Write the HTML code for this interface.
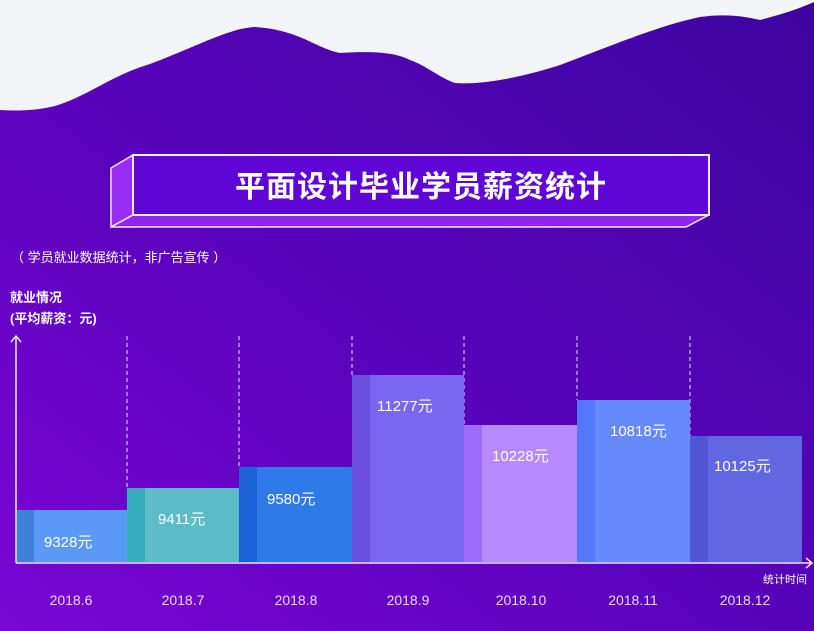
<!DOCTYPE html><html><head><meta charset="utf-8"><style>
body{margin:0;width:814px;height:631px;overflow:hidden;font-family:"Liberation Sans","Noto Sans CJK SC",sans-serif}
</style></head><body>
<svg width="814" height="631" xmlns="http://www.w3.org/2000/svg" style="display:block">
<defs><linearGradient id="bg" x1="0" y1="1" x2="1" y2="0"><stop offset="0" stop-color="#7a06d4"/><stop offset="0.45" stop-color="#5a03bc"/><stop offset="1" stop-color="#3d04a0"/></linearGradient></defs>
<rect width="814" height="631" fill="url(#bg)"/>
<path d="M0,0 L814,0 L814,2 C800,8 790,12 760,20 C740,15 720,14 700,17 C660,25 600,50 560,65 C520,78 480,85 455,83 C440,78 425,65 410,60 C395,52 370,51 340,53 C315,48 300,30 255,27 C230,28 200,45 150,64 C110,76 90,95 55,106 C35,111 15,111 0,110 Z" fill="#f3f4f8"/>
<polygon points="111,168 133,155 133,215 111,227" fill="#9a2df5" stroke="#f0e6ff" stroke-width="1.5"/>
<polygon points="111,227 133,215 709,215 686,227" fill="#9124f0" stroke="#f0e6ff" stroke-width="1.5"/>
<rect x="133" y="155" width="576" height="60" fill="#5f06d6" stroke="#f4ecff" stroke-width="2"/>
<text x="421" y="197" text-anchor="middle" font-size="30" font-weight="bold" fill="#fff" font-family="'Noto Sans CJK SC',sans-serif" letter-spacing="1">平面设计毕业学员薪资统计</text>
<text x="11" y="262" font-size="13" fill="#fff">（ 学员就业数据统计，非广告宣传 ）</text>
<text x="10" y="302" font-size="13" font-weight="bold" fill="#fff">就业情况</text>
<text x="10" y="323" font-size="13" font-weight="bold" fill="#fff">(平均薪资：元)</text>
<g stroke="#e8dcff" stroke-width="1" stroke-dasharray="4,3">
<line x1="127" y1="336" x2="127" y2="488"/><line x1="239" y1="336" x2="239" y2="467"/><line x1="352" y1="336" x2="352" y2="375"/><line x1="464" y1="336" x2="464" y2="425"/><line x1="577" y1="336" x2="577" y2="400"/><line x1="690" y1="336" x2="690" y2="436"/>
</g>
<rect x="16" y="510" width="111" height="52" fill="#5a9af6"/><rect x="16" y="510" width="18" height="52" fill="#3e82d8"/>
<rect x="127" y="488" width="112" height="74" fill="#5bbcc8"/><rect x="127" y="488" width="18" height="74" fill="#36aebf"/>
<rect x="239" y="467" width="113" height="95" fill="#2f7ae9"/><rect x="239" y="467" width="18" height="95" fill="#1c62d6"/>
<rect x="352" y="375" width="112" height="187" fill="#7b66ef"/><rect x="352" y="375" width="18" height="187" fill="#6a4fdf"/>
<rect x="464" y="425" width="113" height="137" fill="#b78afc"/><rect x="464" y="425" width="18" height="137" fill="#9d6bf8"/>
<rect x="577" y="400" width="113" height="162" fill="#6689fb"/><rect x="577" y="400" width="18" height="162" fill="#5378f8"/>
<rect x="690" y="436" width="112" height="126" fill="#5f68e0"/><rect x="690" y="436" width="18" height="126" fill="#5256d4"/>
<g font-size="15" fill="#fff">
<text x="44" y="547">9328元</text><text x="158" y="524">9411元</text><text x="267" y="504">9580元</text><text x="377" y="411">11277元</text><text x="492" y="461">10228元</text><text x="610" y="436">10818元</text><text x="714" y="471">10125元</text>
</g>
<g stroke="#f0e8ff" stroke-width="1.5" fill="none">
<line x1="16" y1="336" x2="16" y2="563"/><polyline points="11,342 16,336 21,342"/>
<line x1="16" y1="563" x2="811" y2="563"/><polyline points="806,558 812,563 806,568"/>
</g>
<text x="763" y="583" font-size="11" fill="#fff">统计时间</text>
<g font-size="14" fill="#e8d8ff" text-anchor="middle">
<text x="71" y="605">2018.6</text><text x="183" y="605">2018.7</text><text x="296" y="605">2018.8</text><text x="408" y="605">2018.9</text><text x="521" y="605">2018.10</text><text x="633" y="605">2018.11</text><text x="745" y="605">2018.12</text>
</g>
</svg>
</body></html>
